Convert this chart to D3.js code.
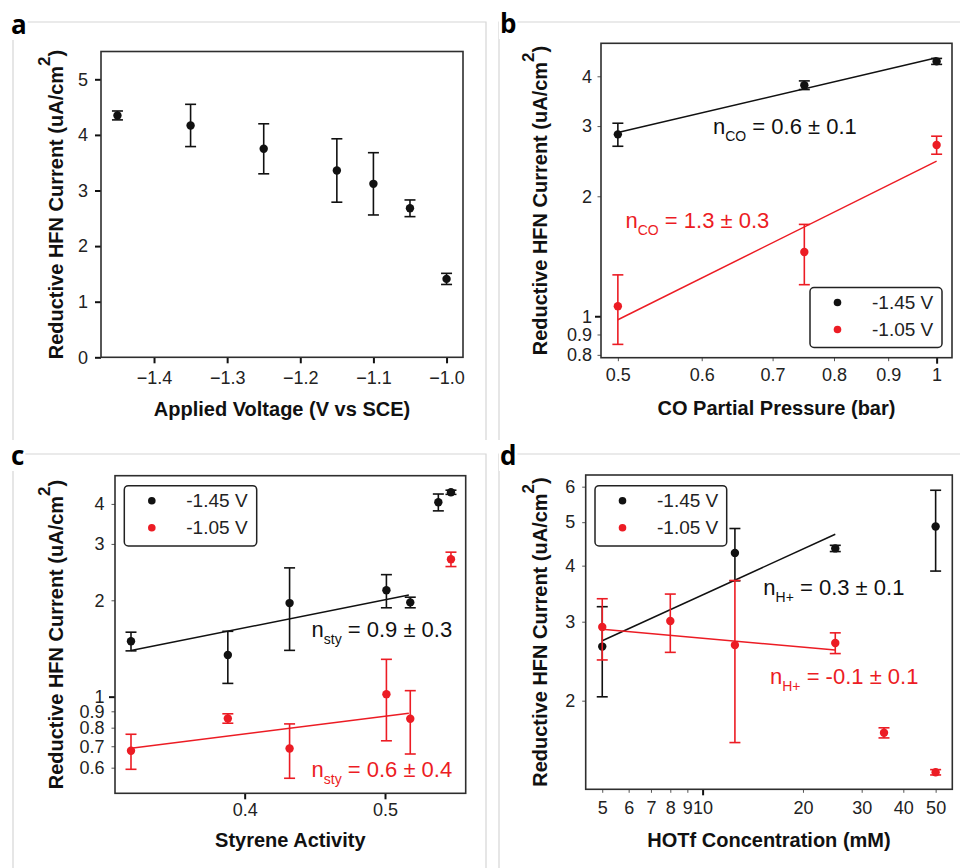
<!DOCTYPE html>
<html><head><meta charset="utf-8">
<script src="https://cdn.jsdelivr.net/npm/d3@7"></script>
<style>
html,body{margin:0;padding:0;background:#fff;}
svg{display:block;font-family:"Liberation Sans",Arial,sans-serif;}
</style></head><body>
<svg id="fig" width="960" height="868"></svg>
<script>
// ---------------- data ----------------
const seriesLabels = ["-1.45 V", "-1.05 V"];

// (a) current vs applied voltage
const voltageA = [-1.45, -1.35, -1.25, -1.15, -1.10, -1.05, -1.00];
const currentA = [4.35, 4.17, 3.75, 3.36, 3.12, 2.68, 1.41];
const errorA   = [0.08, 0.38, 0.45, 0.57, 0.56, 0.15, 0.10];
const xTicksA = [-1.4, -1.3, -1.2, -1.1, -1.0];
const xTickLabelsA = ["−1.4", "−1.3", "−1.2", "−1.1", "−1.0"];
const yTicksA = [0, 1, 2, 3, 4, 5];
const yTickLabelsA = ["0", "1", "2", "3", "4", "5"];

// (b) current vs CO partial pressure
const pressureB = [0.5, 0.75, 1.0];
const currentB145 = [2.86, 3.80, 4.36];
const errorB145   = [0.19, 0.095, 0.075];
const currentB105 = [1.06, 1.45, 2.69];
const errorB105   = [0.21, 0.25, 0.14];
const fitPressureB = [0.5, 1.0];
const fitB145 = [2.89, 4.45];
const fitB105 = [0.98, 2.45];
const xTicksB = [0.5, 0.6, 0.7, 0.8, 0.9, 1];
const xTickLabelsB = ["0.5", "0.6", "0.7", "0.8", "0.9", "1"];
const yTicksB = [0.8, 0.9, 1, 2, 3, 4];
const yTickLabelsB = ["0.8", "0.9", "1", "2", "3", "4"];
const noteB145 = ["CO", "0.6 ± 0.1"];
const noteB105 = ["CO", "1.3 ± 0.3"];

// (c) current vs styrene activity
const activityC145 = [0.319, 0.388, 0.432, 0.501, 0.518, 0.538, 0.547];
const currentC145  = [1.49, 1.35, 1.96, 2.15, 1.97, 4.05, 4.35];
const errorC145    = [0.10, 0.25, 0.565, 0.255, 0.075, 0.245, 0.065];
const activityC105 = [0.319, 0.388, 0.432, 0.501, 0.518, 0.547];
const currentC105  = [0.678, 0.855, 0.689, 1.018, 0.853, 2.688];
const errorC105    = [0.085, 0.029, 0.133, 0.29, 0.191, 0.139];
const fitActivityC = [0.319, 0.517];
const fitC145 = [1.393, 2.078];
const fitC105 = [0.690, 0.887];
const xTicksC = [0.4, 0.5];
const xTickLabelsC = ["0.4", "0.5"];
const yTicksC = [0.6, 0.7, 0.8, 0.9, 1, 2, 3, 4];
const yTickLabelsC = ["0.6", "0.7", "0.8", "0.9", "1", "2", "3", "4"];
const noteC145 = ["sty", "0.9 ± 0.3"];
const noteC105 = ["sty", "0.6 ± 0.4"];

// (d) current vs HOTf concentration
const concD145 = [5, 12.5, 25, 50];
const currentD145 = [2.64, 4.27, 4.37, 4.89];
const errorD145   = [0.60, 0.57, 0.07, 1.00];
const concD105 = [5, 8, 12.5, 25, 35, 50];
const currentD105 = [2.92, 3.01, 2.66, 2.69, 1.696, 1.385];
const errorD105   = [0.455, 0.447, 1.047, 0.143, 0.044, 0.019];
const fitConcD = [5, 25];
const fitD145 = [2.72, 4.70];
const fitD105 = [2.885, 2.594];
const xTicksD = [5, 6, 7, 8, 9, 10, 20, 30, 40, 50];
const xTickLabelsD = ["5", "6", "7", "8", "9", "10", "20", "30", "40", "50"];
const yTicksD = [2, 3, 4, 5, 6];
const yTickLabelsD = ["2", "3", "4", "5", "6"];
const noteD145 = ["H+", "0.3 ± 0.1"];
const noteD105 = ["H+", "-0.1 ± 0.1"];

// ---------------- drawing ----------------
const svg = d3.select("#fig");
const INK = "#111";
const RED = "#ec1c24";
const FRAME = "#2e2e2e";
const PANEL_LINE = "#d6d6d6";

// light panel outlines
const outlines = [
  [[13, 440], [13, 22], [486, 22], [486, 440]],
  [[499, 440], [499, 22], [960, 22]],
  [[13, 868], [13, 454], [486, 454], [486, 868]],
  [[499, 868], [499, 454], [960, 454]]
];
outlines.forEach(pts => {
  svg.append("path").attr("d", d3.line()(pts))
    .attr("fill", "none").attr("stroke", PANEL_LINE).attr("stroke-width", 1.2);
});

function panelLetter(txt, x, y) {
  const bg = svg.append("rect").attr("fill", "#fff");
  const t = svg.append("text").attr("x", x).attr("y", y)
    .attr("font-family", "'Open Sans', 'DejaVu Sans', sans-serif")
    .attr("font-weight", "bold").attr("font-size", 26).attr("fill", "#000").text(txt);
  const b = t.node().getBBox();
  bg.attr("x", b.x - 1).attr("y", b.y + 4).attr("width", b.width + 2).attr("height", b.height - 6);
}

function styleAxis(sel, isMajor, horizontal) {
  sel.select(".domain").remove();
  sel.selectAll(".tick line")
    .attr("stroke", d => isMajor(d) ? "#111" : "#555")
    .attr("stroke-width", d => isMajor(d) ? 2 : 1)
    .each(function (d) {
      const len = isMajor(d) ? 6 : 3.5;
      if (horizontal) d3.select(this).attr("y2", len);
      else d3.select(this).attr("x2", -len);
    });
  sel.selectAll(".tick text")
    .attr("font-size", 18).attr("fill", "#222")
    .attr("font-family", "'Liberation Sans', Arial, sans-serif");
}

function errorSeries(g, x, y, xs, vs, es, color) {
  const s = g.append("g");
  xs.forEach((xv, i) => {
    const cx = x(xv);
    const y1 = y(vs[i] - es[i]), y2 = y(vs[i] + es[i]);
    s.append("line").attr("x1", cx).attr("x2", cx).attr("y1", y1).attr("y2", y2)
      .attr("stroke", color).attr("stroke-width", 1.6);
    [y1, y2].forEach(yy => s.append("line")
      .attr("x1", cx - 5.5).attr("x2", cx + 5.5).attr("y1", yy).attr("y2", yy)
      .attr("stroke", color).attr("stroke-width", 1.6));
    s.append("circle").attr("cx", cx).attr("cy", y(vs[i])).attr("r", 4.2).attr("fill", color);
  });
}

function fitLine(g, x, y, xs, ys, color) {
  g.append("path")
    .attr("d", d3.line().x((d, i) => x(d)).y((d, i) => y(ys[i]))(xs))
    .attr("fill", "none").attr("stroke", color).attr("stroke-width", 1.5);
}

function note(g, x0, y0, parts, color) {
  const t = g.append("text").attr("x", x0).attr("y", y0).attr("fill", color)
    .attr("font-size", 22).attr("font-family", "'Liberation Sans', Arial, sans-serif");
  t.append("tspan").text("n");
  t.append("tspan").attr("font-size", 14).attr("dy", 7).text(parts[0]);
  t.append("tspan").attr("dy", -7).text(" = " + parts[1]);
}

function legend(g, x0, y0, w, h) {
  g.append("rect").attr("x", x0).attr("y", y0).attr("width", w).attr("height", h)
    .attr("rx", 4).attr("fill", "#fff").attr("stroke", "#222").attr("stroke-width", 1.5);
  [INK, RED].forEach((c, i) => {
    const cy = y0 + 15 + i * 27;
    g.append("circle").attr("cx", x0 + 27.5).attr("cy", cy).attr("r", 3.8).attr("fill", c);
    g.append("text").attr("x", x0 + 62).attr("y", cy + 6.7).attr("font-size", 19)
      .attr("fill", "#222").text(seriesLabels[i]);
  });
}

function yTitle(g, tx, ty) {
  const t = g.append("text")
    .attr("transform", `translate(${tx},${ty}) rotate(-90)`)
    .attr("text-anchor", "middle").attr("font-weight", "bold").attr("font-size", 20)
    .attr("fill", "#111");
  t.append("tspan").text("Reductive HFN Current (uA/cm");
  t.append("tspan").attr("font-size", 17).attr("dy", -13).text("2");
  t.append("tspan").attr("dy", 13).text(")");
}

function xTitle(g, tx, ty, txt) {
  g.append("text").attr("x", tx).attr("y", ty).attr("text-anchor", "middle")
    .attr("font-weight", "bold").attr("font-size", 20).attr("fill", "#111").text(txt);
}

function frameAndAxes(g, o) {
  const [xl, xr] = o.x.range();
  const [yb, yt] = o.y.range();
  const xa = d3.axisBottom(o.x).tickValues(o.xTicks)
    .tickFormat((d, i) => o.xLabels[i]).tickSize(6).tickPadding(o.xPad).tickSizeOuter(0);
  g.append("g").attr("transform", `translate(0,${yb})`).call(xa)
    .call(s => styleAxis(s, o.xMajor, true));
  const ya = d3.axisLeft(o.y).tickValues(o.yTicks)
    .tickFormat((d, i) => o.yLabels[i]).tickSize(6).tickPadding(o.yPad).tickSizeOuter(0);
  g.append("g").attr("transform", `translate(${xl},0)`).call(ya)
    .call(s => styleAxis(s, o.yMajor, false));
  g.append("rect").attr("x", xl).attr("y", yt).attr("width", xr - xl).attr("height", yb - yt)
    .attr("fill", "none").attr("stroke", FRAME).attr("stroke-width", 1.6);
}

const all = () => true;

// ---- panel a ----
{
  const g = svg.append("g");
  const x = d3.scaleLinear().domain([-1.4725, -0.9775]).range([101, 463]);
  const y = d3.scaleLinear().domain([0, 5.5]).range([357.3, 51.5]);
  frameAndAxes(g, { x, y, xTicks: xTicksA, xLabels: xTickLabelsA, xPad: 8, xMajor: all,
    yTicks: yTicksA, yLabels: yTickLabelsA, yPad: 7, yMajor: all });
  errorSeries(g, x, y, voltageA, currentA, errorA, INK);
  yTitle(g, 63, 204.5);
  xTitle(g, 282, 416, "Applied Voltage (V vs SCE)");
}

// ---- panel b ----
{
  const g = svg.append("g");
  const x = d3.scaleLog().domain([0.482, 1.034]).range([601, 952]);
  const y = d3.scaleLog().domain([0.787, 4.84]).range([357.7, 43.3]);
  frameAndAxes(g, { x, y, xTicks: xTicksB, xLabels: xTickLabelsB, xPad: 5, xMajor: d => d === 1,
    yTicks: yTicksB, yLabels: yTickLabelsB, yPad: 3, yMajor: d => d === 1 });
  fitLine(g, x, y, fitPressureB, fitB145, INK);
  fitLine(g, x, y, fitPressureB, fitB105, RED);
  errorSeries(g, x, y, pressureB, currentB145, errorB145, INK);
  errorSeries(g, x, y, pressureB, currentB105, errorB105, RED);
  note(g, 713, 134, noteB145, INK);
  note(g, 625.5, 227.5, noteB105, RED);
  legend(g, 810, 287.5, 132, 60);
  yTitle(g, 547, 200.5);
  xTitle(g, 776.5, 415, "CO Partial Pressure (bar)");
}

// ---- panel c ----
{
  const g = svg.append("g");
  const x = d3.scaleLinear().domain([0.3076, 0.5575]).range([115, 465.7]);
  const y = d3.scaleLog().domain([0.499, 4.90]).range([793.3, 475.7]);
  frameAndAxes(g, { x, y, xTicks: xTicksC, xLabels: xTickLabelsC, xPad: 4, xMajor: all,
    yTicks: yTicksC, yLabels: yTickLabelsC, yPad: 4.5, yMajor: d => d === 1 });
  fitLine(g, x, y, fitActivityC, fitC145, INK);
  fitLine(g, x, y, fitActivityC, fitC105, RED);
  errorSeries(g, x, y, activityC145, currentC145, errorC145, INK);
  errorSeries(g, x, y, activityC105, currentC105, errorC105, RED);
  note(g, 311.5, 636.7, noteC145, INK);
  note(g, 311.5, 776.7, noteC105, RED);
  legend(g, 124.3, 485.7, 132.4, 60.3);
  yTitle(g, 63, 634.5);
  xTitle(g, 290.3, 847, "Styrene Activity");
}

// ---- panel d ----
{
  const g = svg.append("g");
  const x = d3.scaleLog().domain([4.46, 56.1]).range([585.7, 952.3]);
  const y = d3.scaleLog().domain([1.269, 6.37]).range([789.3, 475]);
  frameAndAxes(g, { x, y, xTicks: xTicksD, xLabels: xTickLabelsD, xPad: 6, xMajor: d => d === 10,
    yTicks: yTicksD, yLabels: yTickLabelsD, yPad: 4.5, yMajor: () => false });
  fitLine(g, x, y, fitConcD, fitD145, INK);
  fitLine(g, x, y, fitConcD, fitD105, RED);
  errorSeries(g, x, y, concD145, currentD145, errorD145, INK);
  errorSeries(g, x, y, concD105, currentD105, errorD105, RED);
  note(g, 763.3, 595, noteD145, INK);
  note(g, 770, 684.3, noteD105, RED);
  legend(g, 595, 485.7, 131.7, 60.3);
  yTitle(g, 547, 632);
  xTitle(g, 769, 847, "HOTf Concentration (mM)");
}

panelLetter("a", 11, 34);
panelLetter("b", 500, 33);
panelLetter("c", 11, 465);
panelLetter("d", 500, 465);
</script>
</body></html>
